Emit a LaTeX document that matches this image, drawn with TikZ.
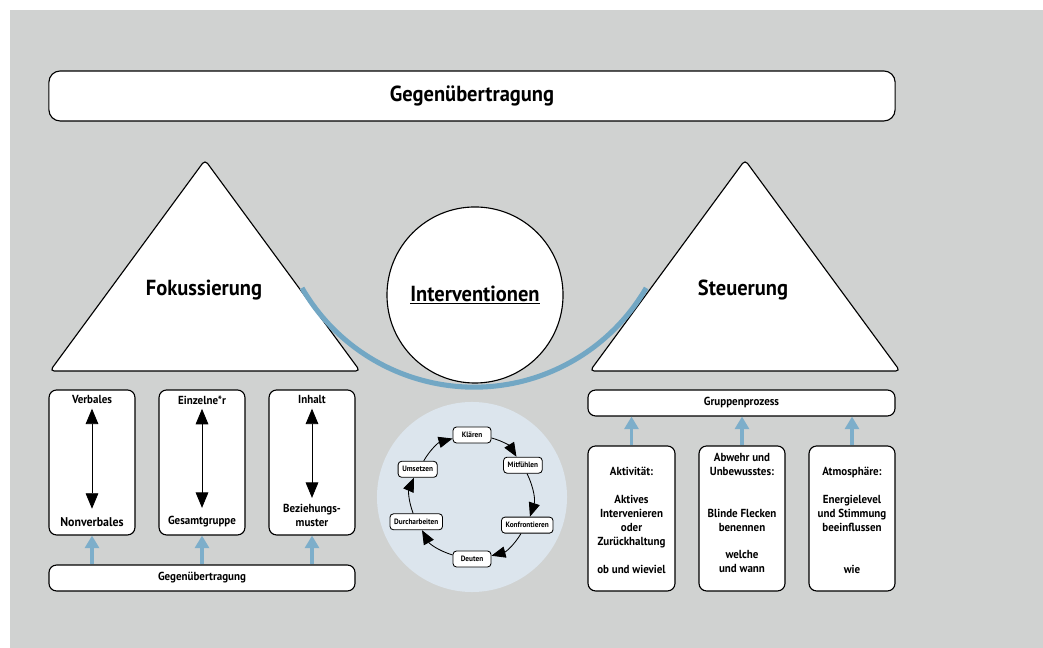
\documentclass[tikz,border=0pt]{standalone}
\usepackage{fontspec}
\setmainfont{PT Sans}[FakeStretch=0.94]
\usetikzlibrary{positioning,calc,arrows.meta}

\definecolor{bggrey}{HTML}{D0D2D1}
\definecolor{cyclebg}{HTML}{DCE5ED}
\definecolor{arcblue}{HTML}{72A7C4}
\definecolor{arrowblue}{HTML}{7DAECA}

\tikzset{
  box/.style={draw, line width=0.8pt, fill=white, rounded corners=5.5pt, inner sep=0pt},
  tri/.style={draw, line width=0.8pt, fill=white, rounded corners=3pt},
  bigtext/.style={font=\fontsize{15.5}{18}\selectfont\bfseries},
  smalltext/.style={font=\fontsize{8.3}{9.9}\selectfont\bfseries, align=center, inner sep=0pt},
  cyctext/.style={draw, line width=0.6pt, fill=white, rounded corners=2.5pt,
    font=\fontsize{5.5}{6}\selectfont\bfseries, minimum height=0.4cm, minimum width=0.95cm, inner xsep=3pt},
  dblarrow/.style={{Triangle[length=11pt,width=9pt]}-{Triangle[length=11pt,width=9pt]}, line width=0.6pt},
  bluearrow/.style={-{Triangle[length=9pt,width=10pt]}, draw=arrowblue, line width=2.2pt},
  cycarrow/.style={-{Triangle[length=10pt,width=8pt]}, line width=0.6pt}
}

\begin{document}
\begin{tikzpicture}[x=0.025cm, y=0.025cm]
    \useasboundingbox (0,0) rectangle (1043,648);
    \fill [bggrey] (10,0) rectangle (1043,638); % Background

    % Title bar
    \node [box, rounded corners=8pt, minimum width=21.15cm, minimum height=1.25cm, bigtext] (title) at (472,552) {Gegenübertragung};

    % Triangles
    \draw [tri] (205,488) -- (360,277) -- (50,277) -- cycle; % Fokussierung
    \draw [tri] (745,488) -- (900,277) -- (590,277) -- cycle; % Steuerung
    \node [bigtext] (fokus) at (204,358) {Fokussierung};
    \node [bigtext] (steuer) at (743,358) {Steuerung};

    % Interventionen
    \node [circle, draw, line width=0.8pt, fill=white, minimum size=4.4cm, bigtext] (interv) at (475,353) {\underline{Interventionen}};
    \draw [arcblue, line width=3.6pt] (302,360) arc [start angle=210.1, end angle=329.9, radius=198.9];

    % Left boxes
    \node [box, minimum width=2.15cm, minimum height=3.625cm] (verbbox) at (92,185.5) {};
    \node [box, minimum width=2.15cm, minimum height=3.625cm] (einzbox) at (202,185.5) {};
    \node [box, minimum width=2.15cm, minimum height=3.625cm] (inhbox) at (312,185.5) {};
    \node [smalltext] (verb) at (92,248) {Verbales};
    \node [smalltext] (einz) at (202,248) {Einzelne*r};
    \node [smalltext] (inh) at (312,248) {Inhalt};
    \node [smalltext, font=\fontsize{9}{10}\selectfont\bfseries] (nonverb) at (92,126) {Nonverbales};
    \node [smalltext] (gesamt) at (202,126) {Gesamtgruppe};
    \node [smalltext] (bezieh) at (312,133) {Beziehungs-\\muster};
    \draw [dblarrow, shorten <=3pt, shorten >=6pt] (verb) -- (nonverb);
    \draw [dblarrow, shorten <=3pt, shorten >=6pt] (einz) -- (gesamt);
    \draw [dblarrow, shorten <=3pt, shorten >=4pt] (inh) -- (bezieh);

    \node [box, minimum width=7.65cm, minimum height=0.65cm, smalltext] (ggbar) at (202,70) {Gegenübertragung};
    \draw [bluearrow] (ggbar.north -| verbbox) -- (verbbox.south);
    \draw [bluearrow] (ggbar.north -| einzbox) -- (einzbox.south);
    \draw [bluearrow] (ggbar.north -| inhbox) -- (inhbox.south);

    % Cycle
    \node [circle, fill=cyclebg, minimum size=4.75cm] (cycbg) at (472,151) {};
    \coordinate (cyc) at (472,151);
    \node [cyctext] (klaeren) at ($(cyc)+(90:62)$) {Klären};
    \node [cyctext] (mitf) at ($(cyc)+(32:60)$) {Mitfühlen};
    \node [cyctext] (konfr) at ($(cyc)+(-27:62)$) {Konfrontieren};
    \node [cyctext] (deuten) at ($(cyc)+(-90:62)$) {Deuten};
    \node [cyctext] (durch) at ($(cyc)+(204:61)$) {Durcharbeiten};
    \node [cyctext] (umsetz) at ($(cyc)+(153:61)$) {Umsetzen};
    \draw [cycarrow] (klaeren) to [bend left=22] (mitf);
    \draw [cycarrow] (mitf) to [bend left=22] (konfr);
    \draw [cycarrow] (konfr) to [bend left=22] (deuten);
    \draw [cycarrow] (deuten) to [bend left=22] (durch);
    \draw [cycarrow] (durch) to [bend left=22] (umsetz);
    \draw [cycarrow] (umsetz) to [bend left=22] (klaeren);

    % Right boxes
    \node [box, minimum width=7.675cm, minimum height=0.65cm, smalltext] (gruppe) at (741.5,245) {Gruppenprozess};
    \node [box, minimum width=2.175cm, minimum height=3.625cm] (aktbox) at (631.5,129.5) {};
    \node [box, minimum width=2.15cm, minimum height=3.625cm] (abwbox) at (742,129.5) {};
    \node [box, minimum width=2.15cm, minimum height=3.625cm] (atmbox) at (852,129.5) {};
    \draw [bluearrow] (aktbox.north) -- (aktbox.north |- gruppe.south);
    \draw [bluearrow] (abwbox.north) -- (abwbox.north |- gruppe.south);
    \draw [bluearrow] (atmbox.north) -- (atmbox.north |- gruppe.south);
    \node [smalltext, anchor=north] (akt) at (631.5,181) {Aktivität:\\[9.9pt] Aktives\\ Intervenieren\\ oder\\ Zurückhaltung\\[9.9pt] ob und wieviel};
    \node [smalltext, anchor=north] (abw) at (742,195) {Abwehr und\\ Unbewusstes:\\[19.8pt] Blinde Flecken\\ benennen\\[9.9pt] welche\\ und wann};
    \node [smalltext, anchor=north] (atm) at (852,181) {Atmosphäre:\\[9.9pt] Energielevel\\ und Stimmung\\ beeinflussen\\[19.8pt] wie};
\end{tikzpicture}
\end{document}
